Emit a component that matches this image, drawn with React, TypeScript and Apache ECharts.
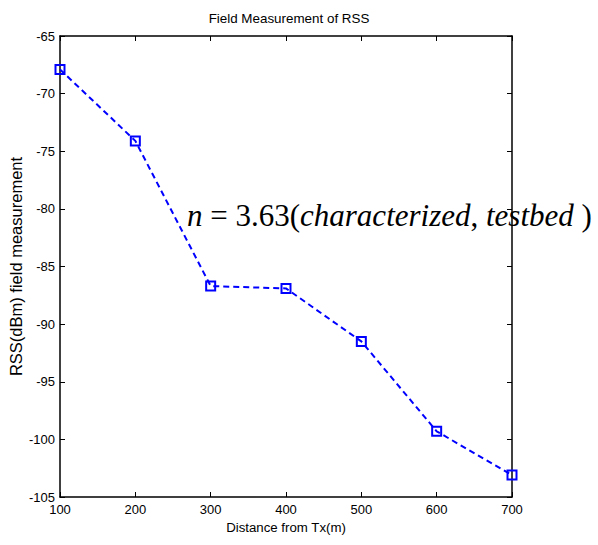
import React, { useEffect, useRef } from "react";
import * as echarts from "echarts";

const distances = [100, 200, 300, 400, 500, 600, 700];
const rss = [-67.9, -74.1, -86.7, -86.9, -91.5, -99.3, -103.1];
const titleText = "Field Measurement of RSS";
const xName = "Distance from Tx(m)";
const yName = "RSS(dBm) field measurement";

const FONT = "'Liberation Sans', Arial, sans-serif";
const SERIF = "'Liberation Serif', 'Times New Roman', serif";

export default function App() {
  const ref = useRef<HTMLDivElement>(null);
  useEffect(() => {
    document.body.style.margin = "0";
    if (!ref.current) return;
    const chart = echarts.init(ref.current, null, { renderer: "svg" });
    const data = distances.map((d, i) => [d, rss[i]]);
    const axisLine = { show: true, lineStyle: { color: "#000", width: 1.5 } };
    const tick = { show: true, inside: true, length: 5, lineStyle: { color: "#000", width: 1 } };
    chart.setOption({
      animation: false,
      backgroundColor: "#fff",
      title: {
        text: titleText,
        left: 284,
        textAlign: "center",
        top: 7,
        textStyle: { fontFamily: FONT, fontSize: 13.4, fontWeight: "normal", color: "#000" },
      },
      grid: { left: 60, top: 36, width: 452, height: 461, containLabel: false, outerBoundsMode: "none" },
      xAxis: [
        {
          type: "value",
          min: 100,
          max: 700,
          interval: 100,
          position: "bottom",
          name: xName,
          nameLocation: "middle",
          nameGap: 24,
          nameMoveOverlap: false,
          nameTextStyle: { fontFamily: FONT, fontSize: 13.25, color: "#000" },
          axisLine,
          axisTick: tick,
          splitLine: { show: false },
          axisLabel: { fontFamily: FONT, fontSize: 13, color: "#000", margin: 6 },
        },
        {
          type: "value",
          min: 100,
          max: 700,
          interval: 100,
          position: "top",
          axisLine,
          axisTick: tick,
          splitLine: { show: false },
          axisLabel: { show: false },
        },
      ],
      yAxis: [
        {
          type: "value",
          min: -105,
          max: -65,
          interval: 5,
          position: "left",
          name: yName,
          nameLocation: "middle",
          nameGap: 36,
          nameMoveOverlap: false,
          nameRotate: 90,
          nameTextStyle: { fontFamily: FONT, fontSize: 16.5, color: "#000" },
          axisLine,
          axisTick: tick,
          splitLine: { show: false },
          axisLabel: { fontFamily: FONT, fontSize: 13, color: "#000", margin: 5 },
        },
        {
          type: "value",
          min: -105,
          max: -65,
          interval: 5,
          position: "right",
          axisLine,
          axisTick: tick,
          splitLine: { show: false },
          axisLabel: { show: false },
        },
      ],
      series: [
        {
          type: "line",
          data,
          xAxisIndex: 0,
          yAxisIndex: 0,
          symbol: "rect",
          symbolSize: 9,
          showAllSymbol: true,
          itemStyle: { color: "rgba(0,0,0,0)", borderColor: "#0000ff", borderWidth: 2 },
          lineStyle: { color: "#0000ff", width: 2, type: [6, 4] },
          z: 3,
        },
      ],
      graphic: [
        {
          type: "text",
          x: 187,
          y: 215,
          z: 10,
          style: {
            text: "{i|n}{r| = 3.63(}{i|characterized}{r|, }{i|testbed}{r| )}",
            verticalAlign: "middle",
            align: "left",
            fill: "#000",
            rich: {
              i: { fontFamily: SERIF, fontStyle: "italic", fontSize: 31, fill: "#000" },
              r: { fontFamily: SERIF, fontSize: 31, fill: "#000" },
            },
          },
        },
      ],
    });
    return () => chart.dispose();
  }, []);
  return <div ref={ref} style={{ width: 598, height: 545 }} />;
}
